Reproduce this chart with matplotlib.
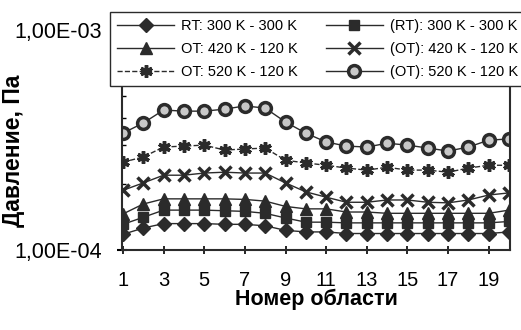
import numpy as np
import matplotlib
matplotlib.use("Agg")
import matplotlib.pyplot as plt
from matplotlib.ticker import FixedLocator, FuncFormatter, LogLocator, NullFormatter

plt.rcParams['font.family'] = ['Liberation Sans', 'DejaVu Sans']

# Номера областей
oblast = list(range(1, 21))

# Давление, Па
rt_300 = [1.18e-4, 1.26e-4, 1.32e-4, 1.32e-4, 1.32e-4, 1.31e-4, 1.31e-4, 1.29e-4, 1.23e-4, 1.21e-4,
          1.21e-4, 1.19e-4, 1.19e-4, 1.19e-4, 1.19e-4, 1.19e-4, 1.19e-4, 1.19e-4, 1.19e-4, 1.21e-4]
rt_300_p = [1.31e-4, 1.41e-4, 1.52e-4, 1.52e-4, 1.52e-4, 1.51e-4, 1.50e-4, 1.47e-4, 1.40e-4, 1.34e-4,
            1.34e-4, 1.33e-4, 1.33e-4, 1.33e-4, 1.33e-4, 1.33e-4, 1.33e-4, 1.33e-4, 1.33e-4, 1.35e-4]
ot_420 = [1.46e-4, 1.62e-4, 1.71e-4, 1.71e-4, 1.71e-4, 1.71e-4, 1.70e-4, 1.67e-4, 1.58e-4, 1.54e-4,
          1.54e-4, 1.49e-4, 1.49e-4, 1.47e-4, 1.47e-4, 1.47e-4, 1.47e-4, 1.47e-4, 1.47e-4, 1.52e-4]
ot_420_p = [1.87e-4, 2.02e-4, 2.19e-4, 2.19e-4, 2.24e-4, 2.26e-4, 2.24e-4, 2.24e-4, 2.02e-4, 1.84e-4,
            1.74e-4, 1.65e-4, 1.65e-4, 1.69e-4, 1.69e-4, 1.65e-4, 1.64e-4, 1.69e-4, 1.78e-4, 1.82e-4]
ot_520 = [2.51e-4, 2.65e-4, 2.94e-4, 2.97e-4, 3.00e-4, 2.85e-4, 2.88e-4, 2.91e-4, 2.56e-4, 2.49e-4,
          2.43e-4, 2.36e-4, 2.31e-4, 2.38e-4, 2.31e-4, 2.31e-4, 2.26e-4, 2.36e-4, 2.43e-4, 2.43e-4]
ot_520_p = [3.40e-4, 3.78e-4, 4.33e-4, 4.28e-4, 4.28e-4, 4.37e-4, 4.52e-4, 4.42e-4, 3.82e-4, 3.40e-4,
            3.10e-4, 2.97e-4, 2.94e-4, 3.06e-4, 3.00e-4, 2.91e-4, 2.82e-4, 2.94e-4, 3.16e-4, 3.20e-4]

x_ticks = [1, 3, 5, 7, 9, 11, 13, 15, 17, 19]

c = '#2b2b2b'

fig = plt.figure(figsize=(5.21, 3.30), dpi=100)
ax = fig.add_axes([0.234, 0.242, 0.745, 0.667])

l1, = ax.plot(oblast, rt_300, color=c, lw=1, marker='D', ms=7.5, mfc=c, mec=c, label='RT: 300 K - 300 K')
l2, = ax.plot(oblast, rt_300_p, color=c, lw=1, marker='s', ms=7, mfc=c, mec=c, label='(RT): 300 K - 300 K')
l3, = ax.plot(oblast, ot_420, color=c, lw=1, marker='^', ms=8.5, mfc=c, mec=c, label='OT: 420 K - 120 K')
l4, = ax.plot(oblast, ot_420_p, color=c, lw=1, marker='x', ms=8, mew=2.5, mec=c, label='(OT): 420 K - 120 K')
l5, = ax.plot(oblast, ot_520, color=c, lw=1, ls='--', marker=(6, 2, 0), ms=9, mew=2.5, mec=c,
              label='OT: 520 K - 120 K')
l6, = ax.plot(oblast, ot_520_p, color=c, lw=1, marker='o', ms=8.5, mfc='#c8c8c8', mec=c, mew=2.5,
              label='(OT): 520 K - 120 K')

ax.set_yscale('log')
ax.set_ylim(1e-4, 1e-3)
ax.set_xlim(0.95, 20.05)

ax.yaxis.set_major_locator(FixedLocator([1e-4, 1e-3]))
ax.yaxis.set_major_formatter(FuncFormatter(lambda v, p: ('%.2E' % v).replace('.', ',')))
ax.yaxis.set_minor_locator(LogLocator(base=10, subs=np.arange(2, 10)))
ax.yaxis.set_minor_formatter(NullFormatter())
ax.set_xticks(x_ticks)

ax.tick_params(axis='y', which='major', labelsize=15.5, direction='inout', length=7, width=1.5, pad=11)
ax.tick_params(axis='y', which='minor', direction='in', length=3, width=1)
ax.tick_params(axis='x', which='major', labelsize=14.5, direction='inout', length=6, width=1.2, pad=12)

for s in ax.spines.values():
    s.set_linewidth(1.5)
    s.set_color(c)

ax.set_xlabel('Номер области', fontsize=15.5, fontweight='bold', labelpad=-1)
ax.set_ylabel('Давление, Па', fontsize=16.5, fontweight='bold')
ax.yaxis.set_label_coords(-0.25, 0.45)

# легенда по строкам: RT / (RT), OT420 / (OT)420, OT520 / (OT)520
handles = [l1, l3, l5, l2, l4, l6]
leg = fig.legend(handles=handles, labels=[h.get_label() for h in handles],
                 loc='upper left', bbox_to_anchor=(110 / 521, 1 - 12 / 330), borderaxespad=0,
                 ncol=2, fontsize=10.5, handlelength=3.9, handletextpad=0.5, columnspacing=1.9,
                 labelspacing=0.6, borderpad=0.5, fancybox=False, framealpha=1,
                 edgecolor=c)
leg.get_frame().set_linewidth(1)

fig.savefig('out.png', dpi=100)
